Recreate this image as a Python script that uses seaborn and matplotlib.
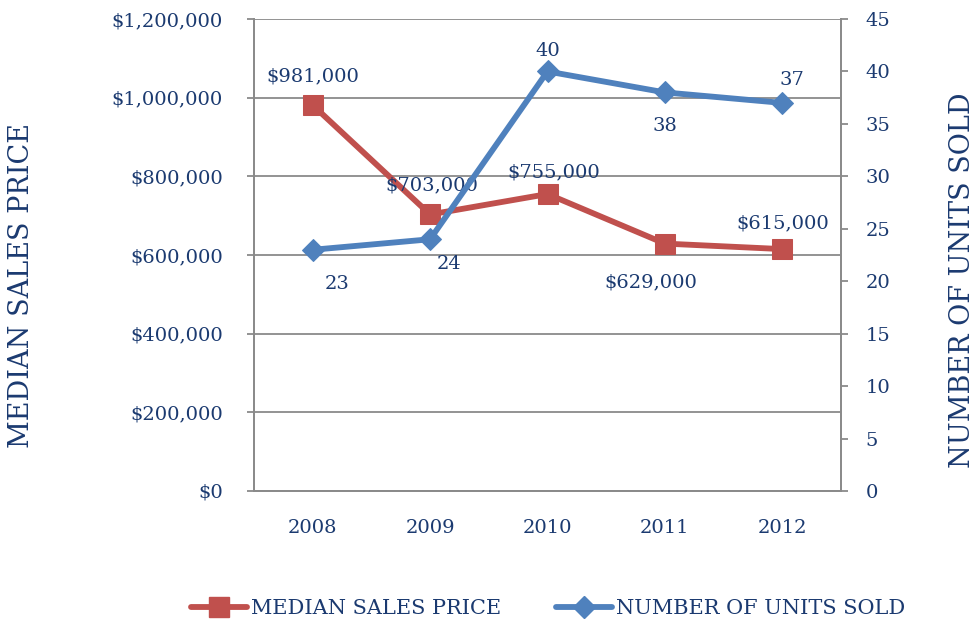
import matplotlib
matplotlib.use("Agg")
import matplotlib.pyplot as plt
import seaborn as sns
import numpy as np
import pandas as pd
from matplotlib.lines import Line2D
from matplotlib.ticker import FuncFormatter, MultipleLocator

years = ["2008", "2009", "2010", "2011", "2012"]
median_price = [981000, 703000, 755000, 629000, 615000]
units_sold = [23, 24, 40, 38, 37]
price_labels = ["$981,000", "$703,000", "$755,000", "$629,000", "$615,000"]
unit_labels = ["23", "24", "40", "38", "37"]

sns.set_theme(style="white")
plt.rcParams["font.family"] = ["DejaVu Serif", "DejaVu Sans"]

TEXT = "#1B3A70"
GRID = "#8A8A8A"
RED = "#C0504D"
BLUE = "#4F81BD"

W, H = 977, 623
fig = plt.figure(figsize=(W / 100, H / 100), dpi=100)
fig.patch.set_facecolor("white")
ax = fig.add_axes([254 / W, 1 - 491 / H, 587 / W, 472 / H])
ax2 = ax.twinx()

idx = np.arange(len(years))
df = pd.DataFrame({"pos": idx, "price": median_price, "units": units_sold})

sns.lineplot(data=df, x="pos", y="price", ax=ax, color=RED, linewidth=4.2,
             marker="s", markersize=14.5, markeredgecolor=RED, label="_nolegend_")
sns.lineplot(data=df, x="pos", y="units", ax=ax2, color=BLUE, linewidth=4.2,
             marker="D", markersize=11, markeredgecolor=BLUE, label="_nolegend_")

# axes styling
ax.set_xlim(-0.5, 4.5)
ax.set_ylim(0, 1200000)
ax2.set_ylim(0, 45)
ax.yaxis.set_major_locator(MultipleLocator(200000))
ax2.yaxis.set_major_locator(MultipleLocator(5))
ax.yaxis.set_major_formatter(FuncFormatter(lambda v, p: "${:,.0f}".format(v)))
ax2.yaxis.set_major_formatter(FuncFormatter(lambda v, p: "{:.0f}".format(v)))

ax.set_xticks(idx)
ax.set_xticklabels(years)
ax.set_xticks(np.arange(-0.5, 5.0, 1.0), minor=True)
ax.tick_params(axis="x", which="major", length=0, pad=20, labelsize=14, labelcolor=TEXT)
ax.tick_params(axis="x", which="minor", length=5.5, width=1.3, color=GRID, direction="out")
ax.tick_params(axis="y", which="major", length=5, width=1.3, color=GRID, direction="out",
               pad=17.5, labelsize=14, labelcolor=TEXT, left=True)
ax2.tick_params(axis="y", which="major", length=5, width=1.3, color=GRID, direction="out",
                pad=12.5, labelsize=14, labelcolor=TEXT, right=True)

ax.grid(True, axis="y", color=GRID, linewidth=1.3)
ax.grid(False, axis="x")
ax2.grid(False)
for a in (ax, ax2):
    a.spines["top"].set_visible(False)
    for s in ("left", "right", "bottom"):
        a.spines[s].set_color(GRID)
        a.spines[s].set_linewidth(1.3)
ax.set_xlabel("")
ax.set_ylabel("")
ax2.set_ylabel("")
ax.set_facecolor("none")
ax2.set_facecolor("none")

# data labels
price_off = [(0, 29), (2, 29), (6, 22), (-14, -39), (0, 26)]
unit_off = [(24, -34), (19, -25), (0, 20), (0, -34), (10, 23)]
for i in idx:
    ax.annotate(price_labels[i], (i, median_price[i]), xytext=price_off[i],
                textcoords="offset pixels", ha="center", va="center",
                fontsize=14, color=TEXT, zorder=6)
    ax2.annotate(unit_labels[i], (i, units_sold[i]), xytext=unit_off[i],
                 textcoords="offset pixels", ha="center", va="center",
                 fontsize=14, color=TEXT, zorder=6)

# axis titles
fig.text(22 / W, 1 - 285 / H, "MEDIAN SALES PRICE", rotation=90, ha="center", va="center",
         fontsize=19.5, color=TEXT)
fig.text(962 / W, 1 - 280 / H, "NUMBER OF UNITS SOLD", rotation=90, ha="center", va="center",
         fontsize=19.5, color=TEXT)

# legend
handles = [
    Line2D([], [], color=RED, linewidth=4.2, marker="s", markersize=14, markeredgecolor=RED),
    Line2D([], [], color=BLUE, linewidth=4.2, marker="D", markersize=11, markeredgecolor=BLUE),
]
leg = fig.legend(handles, ["MEDIAN SALES PRICE", "NUMBER OF UNITS SOLD"], loc="center",
                 bbox_to_anchor=(548 / W, 1 - 609 / H), ncol=2, frameon=False,
                 fontsize=15, handlelength=2.7, handletextpad=0.2, columnspacing=2.6,
                 labelcolor=TEXT)

fig.savefig("out.png", dpi=100, facecolor="white")
